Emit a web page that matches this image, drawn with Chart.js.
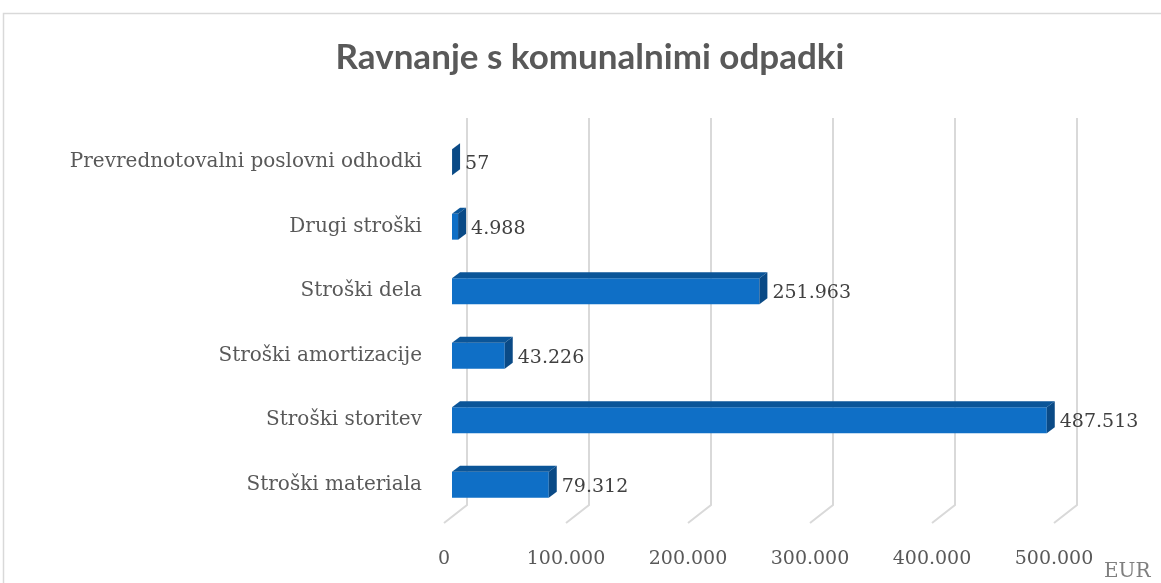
<!DOCTYPE html>
<html lang="sl">
<head>
    <meta charset="UTF-8">
    <title>Ravnanje s komunalnimi odpadki</title>
    <style>
        * { margin: 0; padding: 0; box-sizing: border-box; }
        body { background: #fff; width: 1161px; height: 583px; overflow: hidden; }
        #chart { display: block; }
    </style>
</head>
<body>
    <canvas id="chart" width="1161" height="583"></canvas>

    <script src="https://cdn.jsdelivr.net/npm/chart.js"></script>
    <script>
        // data (EUR)
        const categories = [
            'Prevrednotovalni poslovni odhodki',
            'Drugi stroški',
            'Stroški dela',
            'Stroški amortizacije',
            'Stroški storitev',
            'Stroški materiala'
        ];
        const values = [57, 4988, 251963, 43226, 487513, 79312];
        const tickValues = [0, 100000, 200000, 300000, 400000, 500000];
        const chartTitle = 'Ravnanje s komunalnimi odpadki';
        const unitLabel = 'EUR';

        const serif = '"DejaVu Serif", serif';

        // 1.234.567 style
        function fmt(v) {
            return String(Math.round(v)).replace(/\B(?=(\d{3})+(?!\d))/g, '.');
        }

        const depth = { dx: 8, dy: 6 };      // bar depth
        const back = { dx: 15, dy: 12 };     // back wall offset from bar front
        const floorFront = { dx: -8, dy: 6 };

        const threeD = {
            id: 'threeD',
            beforeDraw(chart) {
                const ctx = chart.ctx;
                const area = chart.chartArea;
                const xs = chart.scales.x;
                ctx.save();
                // outer frame
                ctx.strokeStyle = '#d9d9d9';
                ctx.lineWidth = 1.5;
                ctx.strokeRect(3.5, 13.5, 1200, 700);

                // title
                ctx.fillStyle = '#595959';
                ctx.font = 'bold 35px Lato, sans-serif';
                ctx.textAlign = 'center';
                ctx.textBaseline = 'middle';
                ctx.fillText(chartTitle, 590, 58);

                // back wall + floor gridlines
                ctx.strokeStyle = '#d9d9d9';
                ctx.lineWidth = 2;
                tickValues.forEach(v => {
                    const x = xs.getPixelForValue(v);
                    ctx.beginPath();
                    ctx.moveTo(x + back.dx, area.top - back.dy);
                    ctx.lineTo(x + back.dx, area.bottom - back.dy);
                    ctx.lineTo(x + floorFront.dx, area.bottom + floorFront.dy);
                    ctx.stroke();
                });

                // unit label
                ctx.fillStyle = '#7f7f7f';
                ctx.font = '20px ' + serif;
                ctx.textAlign = 'left';
                ctx.fillText(unitLabel, 1104, 572);
                ctx.restore();
            },
            afterDatasetsDraw(chart) {
                const ctx = chart.ctx;
                const meta = chart.getDatasetMeta(0);
                ctx.save();
                meta.data.forEach((bar, i) => {
                    const p = bar.getProps(['x', 'y', 'base', 'height'], true);
                    const top = p.y - p.height / 2;
                    const bottom = p.y + p.height / 2;
                    // top face
                    ctx.fillStyle = '#0b5598';
                    ctx.beginPath();
                    ctx.moveTo(p.base, top);
                    ctx.lineTo(p.x, top);
                    ctx.lineTo(p.x + depth.dx, top - depth.dy);
                    ctx.lineTo(p.base + depth.dx, top - depth.dy);
                    ctx.closePath();
                    ctx.fill();
                    // side face
                    ctx.fillStyle = '#0a4a86';
                    ctx.beginPath();
                    ctx.moveTo(p.x, top);
                    ctx.lineTo(p.x + depth.dx, top - depth.dy);
                    ctx.lineTo(p.x + depth.dx, bottom - depth.dy);
                    ctx.lineTo(p.x, bottom);
                    ctx.closePath();
                    ctx.fill();

                    // value label
                    ctx.fillStyle = '#404040';
                    ctx.font = '19px ' + serif;
                    ctx.textAlign = 'left';
                    ctx.textBaseline = 'middle';
                    ctx.fillText(fmt(values[i]), p.x + depth.dx + 5, p.y + 2);
                });
                ctx.restore();
            }
        };

        new Chart(document.getElementById('chart'), {
            type: 'bar',
            data: {
                labels: categories,
                datasets: [{
                    data: values,
                    backgroundColor: '#0f6fc6',
                    borderWidth: 0,
                    barPercentage: 0.4,
                    categoryPercentage: 1
                }]
            },
            options: {
                indexAxis: 'y',
                responsive: false,
                devicePixelRatio: 1,
                animation: false,
                layout: { padding: { left: 0, right: 99, top: 130, bottom: 0 } },
                plugins: {
                    legend: { display: false },
                    title: { display: false },
                    tooltip: { enabled: false }
                },
                scales: {
                    x: {
                        min: 0,
                        max: 500000,
                        grid: { display: false, drawTicks: false },
                        border: { display: false },
                        afterFit(scale) { scale.height = 66; },
                        afterBuildTicks(scale) {
                            scale.ticks = tickValues.map(v => ({ value: v }));
                        },
                        ticks: {
                            padding: 31,
                            labelOffset: -8,
                            color: '#595959',
                            font: { family: serif, size: 19 },
                            callback: v => fmt(v)
                        }
                    },
                    y: {
                        grid: { display: false, drawTicks: false },
                        border: { display: false },
                        afterFit(scale) { scale.width = 452; },
                        ticks: {
                            padding: 30,
                            color: '#595959',
                            font: { family: serif, size: 20 }
                        }
                    }
                }
            },
            plugins: [threeD]
        });
    </script>
</body>
</html>
